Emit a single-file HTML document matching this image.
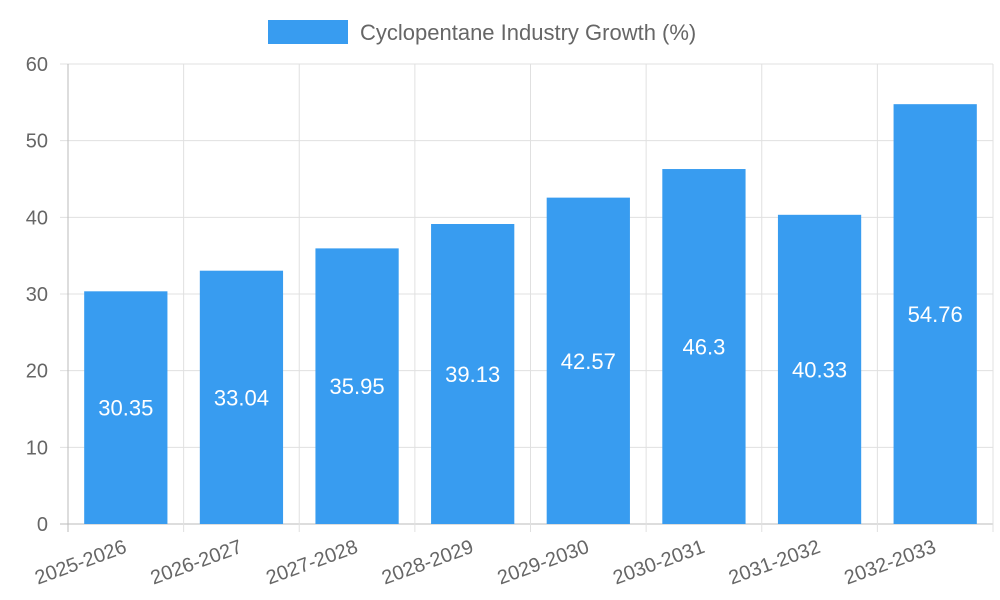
<!DOCTYPE html>
<html><head><meta charset="utf-8"><style>
html,body{margin:0;padding:0;background:#fff;width:1000px;height:600px;overflow:hidden}
svg{font-family:"Liberation Sans",sans-serif}
</style></head><body>
<svg id="chart" width="1000" height="600" xmlns="http://www.w3.org/2000/svg">
<g>
<rect x="268" y="20" width="80" height="24" fill="#389cf0"/>
<text x="360" y="40" font-size="22" fill="#666">Cyclopentane Industry Growth (%)</text>
</g>
<g id="grid"></g><g id="bars"></g><g id="labels"></g>
</svg>
<script>
const categories=["2025-2026","2026-2027","2027-2028","2028-2029","2029-2030","2030-2031","2031-2032","2032-2033"];
const values=[30.35,33.04,35.95,39.13,42.57,46.3,40.33,54.76];
const yTicks=[0,10,20,30,40,50,60];
const NS="http://www.w3.org/2000/svg";
const L=68,R=993,T=64,B=524,yMax=60;
const bw=(R-L)/categories.length;
const y=v=>B-(v/yMax)*(B-T);
const x=i=>L+i*bw;
function mk(tag,attrs,parent){const e=document.createElementNS(NS,tag);for(const k in attrs)e.setAttribute(k,attrs[k]);parent.appendChild(e);return e;}
const grid=document.getElementById('grid'),bars=document.getElementById('bars'),labels=document.getElementById('labels');
yTicks.forEach(t=>{
 const l=mk('line',{x1:60,x2:R,y1:y(t),y2:y(t),stroke:t===0?'#bbb':'#e0e0e0','stroke-width':1},grid);
 
 
 const tx=mk('text',{x:48,y:y(t)+7,'text-anchor':'end','font-size':20,fill:'#666'},grid);
 tx.textContent=t;
 
 
});
for(let i=0;i<=categories.length;i++){
 const l=mk('line',{x1:x(i),x2:x(i),y1:T,y2:B+8,stroke:i===0?'#bbb':'#e0e0e0','stroke-width':1},grid);
 
 
}
categories.forEach((c,i)=>{
 const cx=x(i)+bw/2,w=bw*0.72,v=values[i];
 const r=mk('rect',{x:cx-w/2,y:y(v),width:w,height:B-y(v),fill:'#389cf0'},bars);
 
 
 const t=mk('text',{x:cx,y:(y(v)+B)/2+8,'text-anchor':'middle','font-size':22,fill:'#fff'},labels);
 t.textContent=v;
 
 
 const xl=mk('text',{x:0,y:0,'text-anchor':'end','font-size':20,fill:'#666',transform:`translate(${cx+2},${B+28}) rotate(-20)`},labels);
 xl.textContent=c;
 
 
});
</script>
</body></html>
